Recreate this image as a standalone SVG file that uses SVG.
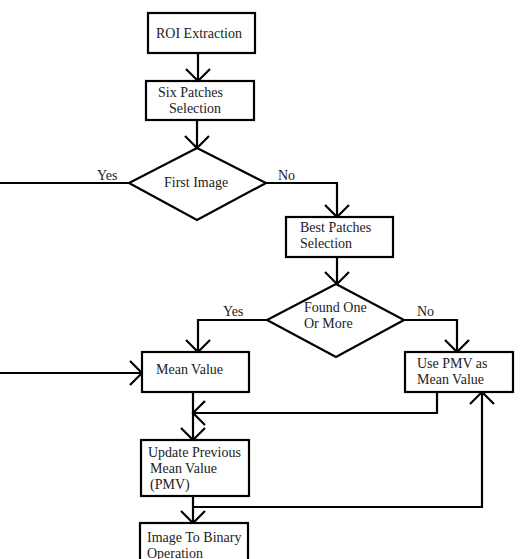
<svg xmlns="http://www.w3.org/2000/svg" width="522" height="559" viewBox="0 0 522 559">
<style>
.box{fill:#fff;stroke:#000;stroke-width:2.2}
.c{fill:none;stroke:#000;stroke-width:2.2}
text{font-family:"Liberation Serif","Times New Roman",serif;font-size:14px;fill:#222}
</style>
<defs>
<marker id="a" viewBox="-15 -15 30 30" refX="0" refY="0" markerWidth="30" markerHeight="30" orient="auto" markerUnits="userSpaceOnUse">
<path d="M-12,-12 L0,0 L-12,12" fill="none" stroke="#000" stroke-width="2.2"/>
</marker>
</defs>
<rect width="522" height="559" fill="#fff"/>
<g id="connectors">
<path class="c" d="M198,53 V81" marker-end="url(#a)"/>
<path class="c" d="M197,120 V148" marker-end="url(#a)"/>
<path class="c" d="M129,183 H0"/>
<path class="c" d="M266,183 H337 V217" marker-end="url(#a)"/>
<path class="c" d="M337,257 V284" marker-end="url(#a)"/>
<path class="c" d="M267,320 H198 V352" marker-end="url(#a)"/>
<path class="c" d="M404,320 H457 V352" marker-end="url(#a)"/>
<path class="c" d="M0,373 H142" marker-end="url(#a)"/>
<path class="c" d="M193,392 V440" marker-end="url(#a)"/>
<path class="c" d="M437,392 V413 H193" marker-end="url(#a)"/>
<path class="c" d="M193,496 V523" marker-end="url(#a)"/>
<path class="c" d="M193,507 H482 V392" marker-end="url(#a)"/>
<text x="97" y="180">Yes</text>
<text x="278" y="180">No</text>
<text x="223" y="316">Yes</text>
<text x="417" y="316">No</text>
</g>
<g id="roi">
<rect class="box" x="148" y="13" width="107" height="40"/>
<text x="156" y="38">ROI Extraction</text>
</g>
<g id="six">
<rect class="box" x="146" y="81" width="108" height="39"/>
<text x="158" y="97">Six Patches</text>
<text x="169" y="113">Selection</text>
</g>
<g id="first">
<polygon class="box" points="197,148 266,183 197,220 129,183"/>
<text x="164" y="187">First Image</text>
</g>
<g id="best">
<rect class="box" x="286" y="217" width="107" height="40"/>
<text x="300" y="232">Best Patches</text>
<text x="300" y="248">Selection</text>
</g>
<g id="found">
<polygon class="box" points="336,284 404,320 336,357 267,320"/>
<text x="304" y="312">Found One</text>
<text x="304" y="328">Or More</text>
</g>
<g id="mean">
<rect class="box" x="142" y="352" width="107" height="40"/>
<text x="156" y="374">Mean Value</text>
</g>
<g id="usepmv">
<rect class="box" x="405" y="352" width="108" height="40"/>
<text x="417" y="368">Use PMV as</text>
<text x="417" y="384">Mean Value</text>
</g>
<g id="update">
<rect class="box" x="141" y="440" width="108" height="56"/>
<text x="148" y="457">Update Previous</text>
<text x="150" y="473">Mean Value</text>
<text x="150" y="489">(PMV)</text>
</g>
<g id="binary">
<rect class="box" x="140" y="523" width="108" height="45"/>
<text x="147" y="542">Image To Binary</text>
<text x="147" y="558">Operation</text>
</g>
</svg>
